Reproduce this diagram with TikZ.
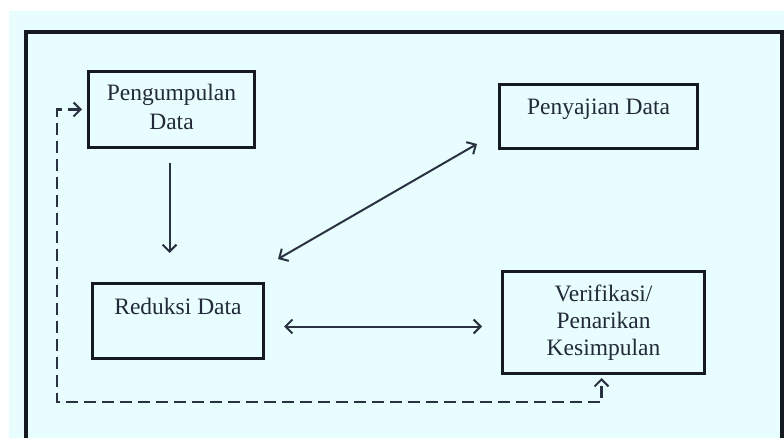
\documentclass[tikz,border=0pt]{standalone}
\usepackage{fontspec}
\setmainfont{Liberation Serif}
\usetikzlibrary{arrows.meta,calc}
\definecolor{bgcyan}{HTML}{E8FDFD}
\definecolor{inkc}{HTML}{222938}
\definecolor{linec}{HTML}{2A3242}
\definecolor{boxc}{HTML}{141922}
\tikzset{barb/.tip={Straight Barb[length=7pt,width=14pt,line width=2pt]}}
\begin{document}
\begin{tikzpicture}[x=1pt,y=-1pt,
  stagebox/.style={draw=boxc,line width=3pt,inner sep=0pt,anchor=north west,
    align=center,text=inkc,font=\fontsize{23.5}{28}\selectfont},
  arr/.style={draw=linec,line width=2pt,-barb},
  darr/.style={draw=linec,line width=2pt,barb-barb},
  dashline/.style={draw=linec,line width=2.2pt,dash pattern=on 12pt off 6pt,barb-barb}]
\useasboundingbox (0,0) rectangle (784,438);
\fill[white] (0,0) rectangle (784,438);
\fill[bgcyan] (9,11) rectangle (784,438);
\draw[boxc,line width=3.2pt] (26,450) -- (26,32) -- (782,32) -- (782,450);

\node[stagebox,minimum width=166pt,text height=58pt,text depth=18pt,
  font=\fontsize{23.5}{29}\selectfont] (pd) at (87,70) {Pengumpulan\\Data};
\node[stagebox,minimum width=198pt,text height=30pt,text depth=34pt] (ps) at (498,83) {Penyajian Data};
\node[stagebox,minimum width=171pt,text height=31pt,text depth=44pt] (rd) at (91,282) {Reduksi Data};
\node[stagebox,minimum width=202pt,text height=84pt,text depth=18pt,
  font=\fontsize{23.5}{27}\selectfont] (vk) at (501,270) {Verifikasi/\\Penarikan\\Kesimpulan};

\coordinate (c1) at (57,402);

\draw[arr] ($(pd.south)+(-2,14)$) -- ($(pd.south |- rd.north)+(-2,-29)$);
\draw[darr] ($(rd.north east)+(13,-23)$) -- ($(ps.south west)+(-21,-6)$);
\draw[darr] ($(rd.east)+(19,5.5)$) -- ($(vk.west)+(-19,4)$);
\draw[dashline] ($(pd.west)+(-5,0)$) -| (c1) -| ($(vk.south)+(-2,3)$);
\end{tikzpicture}
\end{document}
